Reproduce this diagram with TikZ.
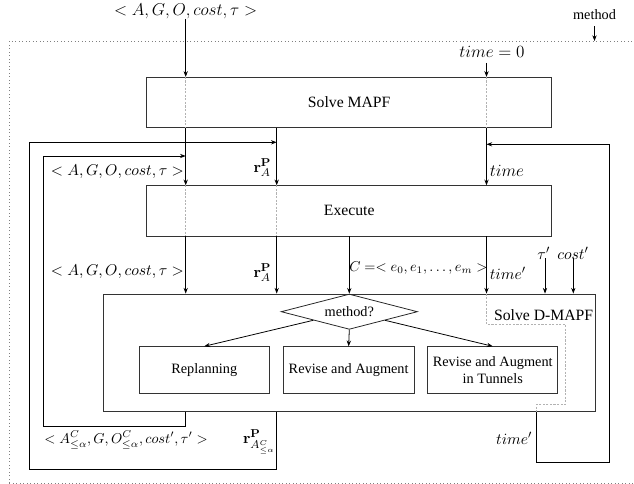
\documentclass[tikz,border=0pt]{standalone}
\usepackage[no-math]{fontspec}
\setmainfont{Liberation Serif}
\usetikzlibrary{arrows.meta,shapes.geometric,calc}
\begin{document}
\begin{tikzpicture}[x=0.7pt,y=-0.7pt,
  box/.style={draw=black!80,line width=0.6pt,rectangle,inner sep=0pt,align=center},
  arr/.style={-{Stealth[length=4pt,width=3pt]},line width=0.55pt},
  ln/.style={line width=0.55pt},
  gdash/.style={gray!60,line width=0.4pt,dash pattern=on 1.5pt off 1pt},
  border/.style={gray,line width=0.45pt,dotted},
  lab/.style={inner sep=0pt},
  bigtxt/.style={font=\fontsize{11}{13}\selectfont},
  smtxt/.style={font=\fontsize{10}{12}\selectfont}]
\useasboundingbox (0,0) rectangle (634,484);

% outer dotted border
\coordinate (btop) at (0,41);
\draw[border] (9.3,483) -- (9.3,41) -- (640,41);
\draw[border] (9.3,483) -- (640,483);

% boxes
\node[box,bigtxt,minimum width=283.5pt,minimum height=35pt] (smapf) at (349.2,102.3) {Solve MAPF};
\node[box,bigtxt,minimum width=283.5pt,minimum height=35.2pt] (exec) at (349.2,210.85) {Execute};
\node[box,minimum width=344.2pt,minimum height=82.25pt] (dmapf) at (349.15,352.75) {};
\node[box,smtxt,minimum width=91pt,minimum height=32.6pt] (rep) at (204.3,370) {Replanning};
\node[box,smtxt,minimum width=91.5pt,minimum height=32.6pt] (ra) at (348.65,370) {Revise and Augment};
\node[box,smtxt,minimum width=91pt,minimum height=32.6pt] (rat) at (492.7,370) {Revise and Augment\\in Tunnels};
\node[draw=black!85,line width=0.55pt,diamond,aspect=3.86,inner sep=0pt,smtxt,
      minimum width=95.4pt,minimum height=24.7pt] (dia) at (349.3,311.7) {method?};
\node[lab,bigtxt,anchor=east] (sdm) at (593.5,315) {Solve D-MAPF};

% column coordinates
\coordinate (c1) at (185.7,0);
\coordinate (c2) at (276.7,0);
\coordinate (c4) at (486.5,0);
\coordinate (tx) at (536.7,0);

% top inputs
\node[lab,font=\fontsize{11.8}{14}\selectfont] (inA) at (185.7,11) {$<A,G,O,cost,\tau>$};
\draw[arr] (inA.south) -- (inA.south |- smapf.north);
\node[lab,font=\fontsize{11.7}{14}\selectfont] (t0) at (492,52.3) {$time=0$};
\coordinate (t0s) at (486.5,63);
\draw[arr] (t0s) -- (smapf.north -| t0s);
\node[lab,smtxt] (meth) at (594.5,15) {method};
\coordinate (mth) at (594.5,26.5);
\draw[arr] (mth) -- (btop -| mth);

% dashed lines through boxes
\draw[gdash] (smapf.north -| c1) -- (smapf.south -| c1);
\draw[gdash] (smapf.north -| c4) -- (smapf.south -| c4);
\draw[gdash] (exec.north -| c1) -- (exec.south -| c1);
\draw[gdash] (exec.north -| c2) -- (exec.south -| c2);
\draw[gdash] (dmapf.north -| c4) -- (486.5,324.3) -- (565.7,324.3) -- (565.7,404.3) -- (536.7,404.3) -- (dmapf.south -| tx);

% columns between Solve MAPF and Execute
\draw[arr] (smapf.south -| c1) -- (exec.north -| c1);
\draw[arr] (smapf.south -| c2) -- (exec.north -| c2);
\draw[arr] (smapf.south -| c4) -- (exec.north -| c4);

% columns between Execute and Solve D-MAPF
\draw[arr] (exec.south -| c1) -- (dmapf.north -| c1);
\draw[arr] (exec.south -| c2) -- (dmapf.north -| c2);
\draw[arr] (exec.south -| dia.north) -- (dia.north);
\draw[arr] (exec.south -| c4) -- (dmapf.north -| c4);

% labels on columns
\node[lab,anchor=east,font=\fontsize{10.6}{13}\selectfont] (l1) at (184.3,171.7) {$<A,G,O,cost,\tau>$};
\node[lab,anchor=east,font=\fontsize{11}{13}\selectfont] (r1) at (271.5,167.5) {$\mathbf{r}_A^{\mathbf{P}}$};
\node[lab,anchor=west,font=\fontsize{11.5}{13}\selectfont] (tm) at (489.5,170.7) {$time$};
\node[lab,anchor=east,font=\fontsize{10.6}{13}\selectfont] (l2) at (184.3,271.7) {$<A,G,O,cost,\tau>$};
\node[lab,anchor=east,font=\fontsize{11}{13}\selectfont] (r2) at (271.5,272.5) {$\mathbf{r}_A^{\mathbf{P}}$};
\node[lab,anchor=west,font=\fontsize{10}{12}\selectfont] (cl) at (349,268) {$C=<e_0,e_1,\ldots,e_m>$};
\node[lab,anchor=west,font=\fontsize{10.8}{13}\selectfont] (tp) at (489.5,273) {$time'$};

% tau' and cost'
\node[lab,font=\fontsize{11.3}{13}\selectfont] (tau) at (543.8,253) {$\tau'$};
\node[lab,font=\fontsize{11.3}{13}\selectfont] (cst) at (573,253) {$cost'$};
\coordinate (taus) at (545,258.3);
\coordinate (csts) at (573.3,258.3);
\draw[arr] (taus) -- (dmapf.north -| taus);
\draw[arr] (csts) -- (dmapf.north -| csts);

% method branches
\draw[arr] (dia) -- (rep.north);
\draw[arr] (dia.south) -- (ra.north);
\draw[arr] (dia) -- (rat.north);

% feedback loops
\coordinate (ilb) at (43.3,426.3);
\coordinate (ilt) at (185.7,156);
\draw[arr] (dmapf.south -| ilt) |- (ilb) |- (ilt);
\coordinate (olb) at (29.3,469);
\coordinate (olt) at (276.7,142.3);
\draw[arr] (dmapf.south -| olt) |- (olb) |- (olt);
\coordinate (tlb) at (609.3,462.3);
\coordinate (tlt) at (486.5,144.3);
\draw[arr] (dmapf.south -| tx) |- (tlb) |- (tlt);

% bottom labels
\node[lab,anchor=west,font=\fontsize{10.2}{12}\selectfont] (bl) at (44,440) {$<A^C_{\leq\alpha},G,O^C_{\leq\alpha},cost',\tau'>$};
\node[lab,anchor=east,font=\fontsize{11}{13}\selectfont] (br) at (275.5,442) {$\mathbf{r}^{\mathbf{P}}_{A^C_{\leq\alpha}}$};
\node[lab,anchor=east,font=\fontsize{10.8}{13}\selectfont] (tp2) at (532.5,438) {$time'$};
\end{tikzpicture}
\end{document}
